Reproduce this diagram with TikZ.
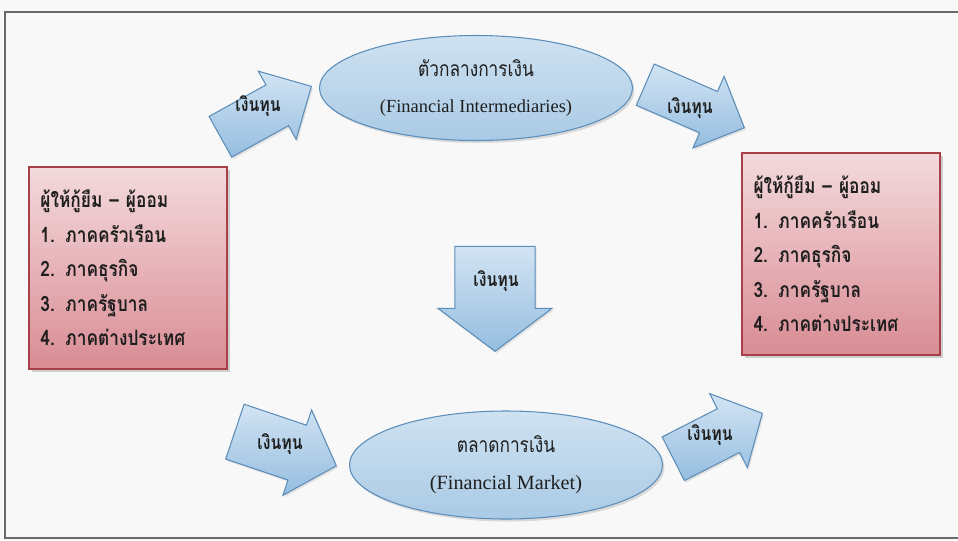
\documentclass[tikz,border=0pt]{standalone}
\usepackage{fontspec}
\setmainfont{Liberation Serif}
\newfontfamily\thai[Script=Thai,FakeStretch=0.82]{Loma}
\usetikzlibrary{shapes,shapes.arrows,shadows,positioning}
\definecolor{paper}{HTML}{F8F8F8}
\definecolor{framegray}{HTML}{6A6A6A}
\definecolor{boxred}{HTML}{A8404A}
\definecolor{pinktop}{HTML}{F3DADC}
\definecolor{pinkbot}{HTML}{D98C94}
\definecolor{bluedge}{HTML}{5B8DBA}
\definecolor{bluetop}{HTML}{D2E4F3}
\definecolor{bluebot}{HTML}{95BDE0}
\definecolor{ovaltop}{HTML}{CFE2F1}
\definecolor{ovalbot}{HTML}{A9CAE5}
\definecolor{ink}{HTML}{1E1E1E}

\begin{document}
\begin{tikzpicture}[x=0.2mm,y=-0.2mm,text=ink,
  lender/.style={draw=boxred,line width=0.7pt,top color=pinktop,bottom color=pinkbot,
    minimum width=39.6mm,minimum height=40.4mm,text width=35mm,align=left,
    font=\thai\bfseries\fontsize{12}{19.6}\selectfont,
    drop shadow={shadow xshift=0.6mm,shadow yshift=-0.6mm,opacity=0.35}},
  market/.style={ellipse,draw=bluedge,line width=0.6pt,top color=ovaltop,bottom color=ovalbot,
    inner sep=0pt,align=center,minimum width=62.6mm,font=\fontsize{10.5}{21}\selectfont,
    drop shadow={shadow xshift=0.4mm,shadow yshift=-0.5mm,opacity=0.25}},
  fund/.style={single arrow,anchor=tip,draw=bluedge,line width=0.6pt,top color=bluetop,bottom color=bluebot,
    minimum height=20.8mm,minimum width=15.6mm,single arrow tip angle=90,
    inner xsep=0pt,inner ysep=3.6mm,
    drop shadow={shadow xshift=0.3mm,shadow yshift=-0.4mm,opacity=0.2}},
  fundtext/.style={font=\thai\bfseries\fontsize{11}{13}\selectfont}]

  \path[use as bounding box,fill=paper] (0,0) rectangle (958,540);
  \draw[framegray,line width=0.8pt] (980,12) -- (5,12) -- (5,538) -- (980,538);

  % lenders and savers
  \node[lender]		(left)	at (128,268)	{ผู้ให้กู้ยืม – ผู้ออม\\1. ภาคครัวเรือน\\2. ภาคธุรกิจ\\3. ภาครัฐบาล\\4. ภาคต่างประเทศ};
  \node[lender]		(right)	at (841,254)	{ผู้ให้กู้ยืม – ผู้ออม\\1. ภาคครัวเรือน\\2. ภาคธุรกิจ\\3. ภาครัฐบาล\\4. ภาคต่างประเทศ};

  % the two channels
  \node[market,minimum height=21mm]	(inter)	at (476,88)	{{\thai\fontsize{12}{21}\selectfont ตัวกลางการเงิน}\\(Financial Intermediaries)};
  \node[market,minimum height=21.6mm]	(mkt)	at (506,465)	{{\thai\fontsize{12}{21}\selectfont ตลาดการเงิน}\\{\fontsize{11.5}{21}\selectfont (Financial Market)}};

  % flows of funds
  \node[fund,rotate=29]		(f1)	at (312,86)	{};
  \node[fund,rotate=-23.5,minimum height=21.6mm,inner ysep=3.3mm]	(f2)	at (745,128)	{};
  \node[fund,rotate=-90,minimum height=21mm,minimum width=22.8mm,inner ysep=5.8mm,single arrow tip angle=106] (f3) at (495,352) {};
  \node[fund,rotate=-18.6,minimum height=21.4mm,minimum width=18mm,inner ysep=4.4mm,single arrow tip angle=95]	(f4)	at (337,466)	{};
  \node[fund,rotate=27,minimum height=20mm,minimum width=16.6mm,inner ysep=3.5mm,single arrow tip angle=95]	(f5)	at (763,413)	{};

  \node[fundtext]	at (258,106)	{เงินทุน};
  \node[fundtext]	at (690,108)	{เงินทุน};
  \node[fundtext]	at (496,281)	{เงินทุน};
  \node[fundtext]	at (280,444)	{เงินทุน};
  \node[fundtext]	at (710,435)	{เงินทุน};
\end{tikzpicture}
\end{document}
